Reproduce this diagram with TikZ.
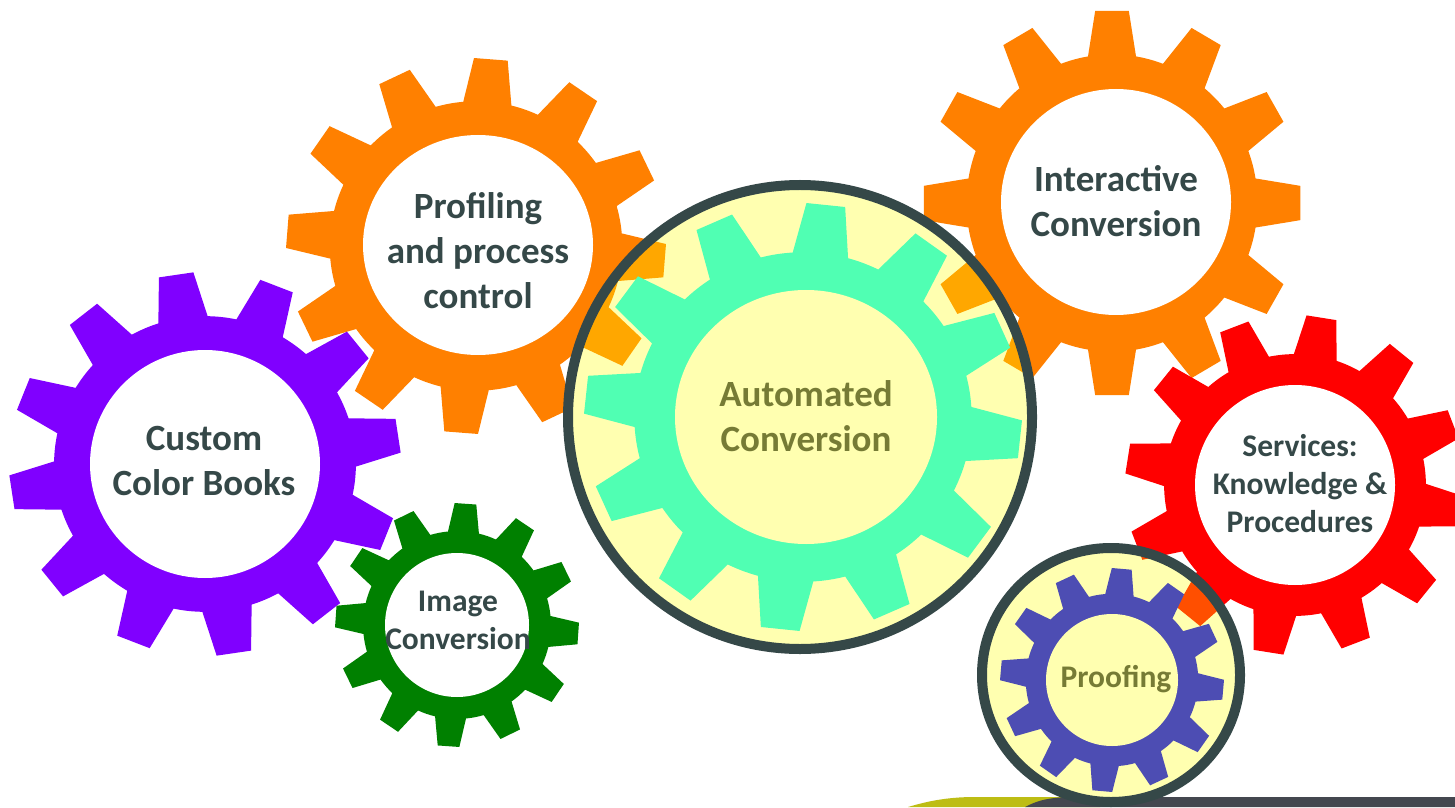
\documentclass[tikz,border=0pt]{standalone}
\usepackage{fontspec}
\setmainfont{Carlito}
\definecolor{ringdark}{HTML}{354848}
\definecolor{textolive}{HTML}{767B35}
\definecolor{barolive}{HTML}{BDBD14}
\definecolor{bardark}{HTML}{44474F}
\definecolor{gearorange}{HTML}{FF8000}
\definecolor{gearpurple}{HTML}{8000FF}
\definecolor{geargreen}{HTML}{008000}
\definecolor{gearred}{HTML}{FF0000}
\definecolor{gearteal}{HTML}{50FFB3}
\definecolor{gearblue}{HTML}{4D4DB3}
\definecolor{ringyellow}{rgb}{1,1,0}
\definecolor{holeyellow}{HTML}{FFFFB0}
% #1 cx, #2 cy (pixels from top), #3 tip rx, #4 tip ry, #5 phase, #6 colour
\newcommand\cog[6]{%
  \begin{scope}[shift={(#1,807-#2)}]
    \fill[#6] (#5-9.5:{#3*.77} and {#4*.77})
      foreach \k [evaluate=\k as \a using #5+30*\k] in {0,...,11} {
        -- (\a-9.5:{#3*.77} and {#4*.77})
        -- (\a-5.1:#3 and #4)
        -- (\a+5.1:#3 and #4)
        -- (\a+9.5:{#3*.77} and {#4*.77})
        arc[start angle=\a+9.5, delta angle=11, x radius=#3*.77, y radius=#4*.77]
      } -- cycle;
  \end{scope}}
% #1 cx, #2 cy, #3 rx, #4 ry, #5 colour
\newcommand\cogmid[5]{\fill[#5] (#1,807-#2) ellipse [x radius=#3, y radius=#4];}
\tikzset{
  bigtext/.style={font=\fontsize{37}{45}\selectfont\bfseries, text=ringdark, align=center, inner sep=0pt},
  smalltext/.style={font=\fontsize{31.5}{38}\selectfont\bfseries, text=ringdark, align=center, inner sep=0pt},
  ring/.style={draw=ringdark, line width=10pt, fill=ringyellow, fill opacity=.31, draw opacity=1}
}
\begin{document}
\begin{tikzpicture}[x=1pt,y=1pt]
\useasboundingbox (0,0) rectangle (1455,807);
\clip (0,0) rectangle (1455,807);
\fill[white] (0,0) rectangle (1455,807);
% bottom band
\fill[barolive] (908,0) .. controls (925,5) and (945,10) .. (975,10) -- (1100,10) -- (1100,0) -- cycle;
\fill[bardark] (1025,0) .. controls (1035,5) and (1045,10) .. (1075,10) -- (1455,10) -- (1455,0) -- cycle;
% gears
\cog{476}{246}{190}{188}{25.5}{gearorange}\cogmid{478}{245}{115}{110}{white}
\cog{1112}{203}{189}{193}{0}{gearorange}\cogmid{1116}{202}{115}{113}{white}
\cog{205}{464}{196}{192}{8.5}{gearpurple}\cogmid{205}{464}{115}{114}{white}
\cog{457}{625}{122}{122}{26}{geargreen}\cogmid{457}{625}{72}{72}{white}
\cog{1295}{485}{170}{170}{21}{gearred}\cogmid{1295}{485}{100}{100}{white}
% automated
\path[ring] (800,390) circle (232);
\cog{803}{417}{219}{214}{24}{gearteal}\cogmid{806}{417}{131}{127}{holeyellow}
% proofing
\path[ring] (1111,132) ellipse [x radius=129, y radius=127];
\cog{1112}{680}{112}{112}{25}{gearblue}\cogmid{1112}{680}{66}{66}{holeyellow}
% labels
\node[bigtext] (profiling) at (478,807-251) {Profiling\\and process\\control};
\node[bigtext] (interactive) at (1116,807-201) {Interactive\\Conversion};
\node[bigtext] (custom) at (204,807-461) {Custom\\Color Books};
\node[bigtext, text=textolive] (automated) at (806,807-416) {Automated\\Conversion};
\node[smalltext] (image) at (458,807-620) {Image\\Conversion};
\node[smalltext] (services) at (1300,807-484) {Services:\\Knowledge \&\\Procedures};
\node[smalltext, text=textolive] (proofing) at (1116,807-679) {Proofing};
\end{tikzpicture}
\end{document}
